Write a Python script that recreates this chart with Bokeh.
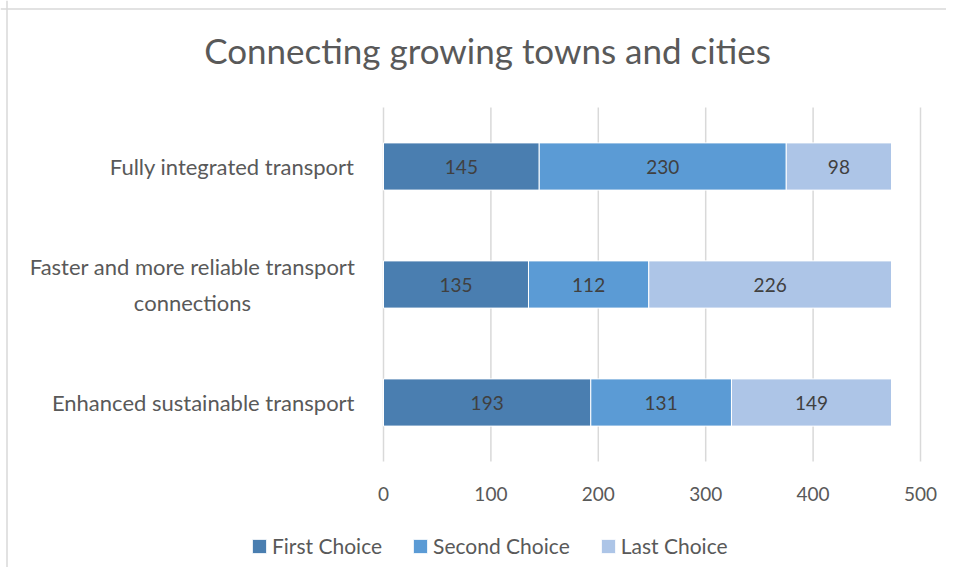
from bokeh.plotting import figure
from bokeh.models import ColumnDataSource, Legend, LegendItem, Label, Range1d, Span
from bokeh.core.properties import value
from bokeh.embed import file_html
from bokeh.resources import INLINE

# ---------------- data ----------------
title = "Connecting growing towns and cities"
categories = ["Enhanced sustainable transport",
              "Faster and more reliable transport\nconnections",
              "Fully integrated transport"]
series_names = ["First Choice", "Second Choice", "Last Choice"]
first_choice = [193, 135, 145]
second_choice = [131, 112, 230]
last_choice = [149, 226, 98]
x_ticks = [0, 100, 200, 300, 400, 500]
colors = ["#4a7eb0", "#5b9bd5", "#adc5e7"]

# ---------------- layout (pixels) ----------------
W, H = 946, 567
X0_PX, X500_PX = 383, 920          # pixel of value 0 and 500
ROW0_PX, ROW_STEP = 402, 118       # centre of first row, row spacing
K = (X500_PX - X0_PX) / 500.0

def xd(px):
    return (px - X0_PX) / K

def yd(py):
    return (ROW0_PX - py) / ROW_STEP

FONT = "Lato"
TXT = "#595959"

p = figure(width=W, height=H, x_range=Range1d(xd(0), xd(W)), y_range=Range1d(yd(H), yd(0)),
           output_backend="svg", toolbar_location=None,
           min_border_left=0, min_border_right=0, min_border_top=0, min_border_bottom=0)
p.axis.visible = False
p.grid.visible = False
p.outline_line_color = None
p.background_fill_color = "white"
p.border_fill_color = "white"

rows = list(range(len(categories)))

# gridlines at tick values
p.segment(x0=x_ticks, y0=[-0.5] * len(x_ticks), x1=x_ticks, y1=[2.5] * len(x_ticks),
          line_color="#d9d9d9", line_width=1.5)

src = ColumnDataSource(dict(row=rows, first=first_choice, second=second_choice, last=last_choice))
stack = p.hbar_stack(["first", "second", "last"], y="row", height=0.4, color=colors,
                     line_color="white", line_width=1, source=src)

# bar value labels
series = [first_choice, second_choice, last_choice]
for i in range(3):
    xs, ts = [], []
    for j in rows:
        base = sum(series[k][j] for k in range(i))
        xs.append(base + series[i][j] / 2)
        ts.append(str(series[i][j]))
    p.text(x=xs, y=rows, text=ts, text_align="center", text_baseline="middle",
           text_font=value(FONT), text_font_size="19px", text_color="#404040")

# x tick labels
p.text(x=x_ticks, y=[yd(493)] * len(x_ticks), text=[str(t) for t in x_ticks],
       text_align="center", text_baseline="middle", text_font=value(FONT),
       text_font_size="19px", text_color=TXT)

# category labels
single = [j for j in rows if "\n" not in categories[j]]
multi = [j for j in rows if "\n" in categories[j]]
p.text(x=[0] * len(single), y=single, text=[categories[j] for j in single], x_offset=-29,
       text_align="right", text_baseline="middle", text_font=value(FONT),
       text_font_size="22px", text_color=TXT)
p.text(x=[0] * len(multi), y=multi, text=[categories[j] for j in multi], x_offset=-191,
       text_align="center", text_baseline="middle", text_font=value(FONT),
       text_font_size="22px", text_color=TXT, text_line_height=1.3)

# title
p.add_layout(Label(x=487, y=H - 49, x_units="screen", y_units="screen", text=title,
                   text_align="center", text_baseline="alphabetic", text_font=FONT,
                   text_font_size="35px", text_color=TXT))

# chart border (left, top)
p.add_layout(Span(location=xd(6.5), dimension="height", line_color="#d9d9d9", line_width=1.5))
p.add_layout(Span(location=yd(8.5), dimension="width", line_color="#d9d9d9", line_width=1.5))

legend = Legend(items=[LegendItem(label=n, renderers=[r]) for n, r in zip(series_names, stack)],
                orientation="horizontal", location=(250, H - 558),
                label_text_font=FONT, label_text_font_size="21px", label_text_color=TXT,
                glyph_width=18, glyph_height=18, spacing=29, label_standoff=4,
                padding=0, margin=0, border_line_color=None, background_fill_alpha=0)
p.add_layout(legend, "center")

open("out.html", "w").write(file_html(p, INLINE))
